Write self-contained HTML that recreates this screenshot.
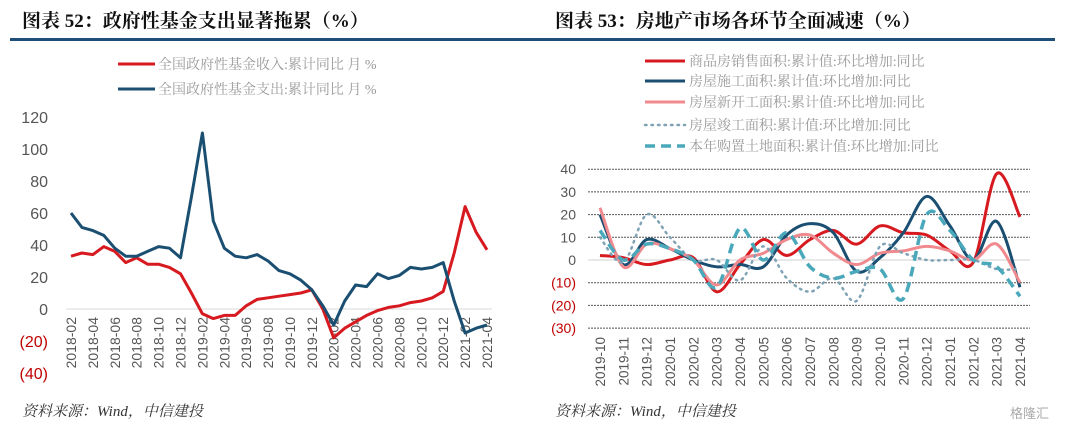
<!DOCTYPE html>
<html><head><meta charset="utf-8">
<style>
body{margin:0;background:#fff;width:1080px;height:432px;overflow:hidden;font-family:"Liberation Sans","Noto Sans CJK SC",sans-serif}
svg{position:absolute;left:0;top:0}
</style></head><body>
<svg id="s" width="1080" height="432" xmlns="http://www.w3.org/2000/svg">
<text x="22" y="27" font-size="19" font-weight="bold" fill="#111" font-family="Liberation Serif,Noto Serif CJK SC,serif">图表 52：政府性基金支出显著拖累（%）</text>
<rect x="10" y="38" width="530" height="3" fill="#1f4e79"/>
<text x="555" y="27" font-size="19" font-weight="bold" fill="#111" font-family="Liberation Serif,Noto Serif CJK SC,serif">图表 53：房地产市场各环节全面减速（%）</text>
<rect x="540" y="38" width="515" height="3" fill="#1f4e79"/>
<text x="22" y="416" font-size="15" font-style="italic" fill="#333" font-family="Liberation Serif,Noto Serif CJK SC,serif">资料来源：Wind，中信建投</text>
<text x="555" y="416" font-size="15" font-style="italic" fill="#333" font-family="Liberation Serif,Noto Serif CJK SC,serif">资料来源：Wind，中信建投</text>
<text x="1010" y="418" font-size="13" fill="#aaa">格隆汇</text>
<g id="L"></g><g id="R"></g>
</svg>
<script>
// Left chart data
const leftCats = ["2018-02","2018-03","2018-04","2018-05","2018-06","2018-07","2018-08","2018-09","2018-10","2018-11","2018-12","2019-01","2019-02","2019-03","2019-04","2019-05","2019-06","2019-07","2019-08","2019-09","2019-10","2019-11","2019-12","2020-01","2020-02","2020-03","2020-04","2020-05","2020-06","2020-07","2020-08","2020-09","2020-10","2020-11","2020-12","2021-01","2021-02","2021-03","2021-04"];
const incomeVals = [33,35,34,39,36,29,32,28,28,26,22,10,-3,-6,-4,-4,2,6,7,8,9,10,12,0,-18,-12,-8,-4,-1,1,2,4,5,7,11,35,64,48,37];
const spendVals = [60,51,49,46,38,33,33,36,39,38,32,70,110,55,38,33,32,34,30,24,22,18,12,2,-10,5,15,14,22,19,21,26,25,26,29,5,-15,-12,-10];
const leftTicks = [120,100,80,60,40,20,0,-20,-40];
// Right chart data
const rightCats = ["2019-10","2019-11","2019-12","2020-01","2020-02","2020-03","2020-04","2020-05","2020-06","2020-07","2020-08","2020-09","2020-10","2020-11","2020-12","2021-01","2021-02","2021-03","2021-04"];
const salesVals = [2,1,-2,0,1,-14,-2,9,2,9,13,7,15,12,11,4,-1,38,19];
const constructVals = [20,-2,9,5,0,-3,-2,-3,11,16,12,-5,1,12,28,15,0,17,-12];
const newStartVals = [23,-3,7,5,0,-11,0,3,9,11,3,-2,3,4,6,4,0,7,-10];
const completedVals = [10,-1,20,10,0,0,-9,6,-8,-14,-8,-18,6,3,0,0,0,-4,-4];
const landVals = [13,0,7,5,0,-12,14,0,12,-3,-8,-5,-4,-17,20,13,0,-3,-16];
const rightTicks = [40,30,20,10,0,-10,-20,-30];

const NS="http://www.w3.org/2000/svg";
const SERIF='"Liberation Serif","Noto Serif CJK SC",serif';
function mk(p,tag,at,txt){const e=document.createElementNS(NS,tag);for(const k in at)e.setAttribute(k,at[k]);if(txt!=null)e.textContent=txt;p.appendChild(e);return e;}
function fmt(v){return v<0?"("+(-v)+")":String(v);}

// LEFT
const L=document.getElementById('L');
const lx=i=>71+i*(416/(leftCats.length-1));
const ly=v=>309-1.6*v;
leftTicks.forEach(t=>{const e=mk(L,'text',{x:48,y:ly(t)+6,'font-size':16,'text-anchor':'end',fill:t<0?'#c00000':'#555'},fmt(t));
});
const z=mk(L,'line',{x1:66,x2:492,y1:ly(0),y2:ly(0),stroke:'#d9d9d9','stroke-width':1});

leftCats.forEach((c,i)=>{if(i%2)return;const x=lx(i)+5,y=317;const e=mk(L,'text',{x:x,y:y,'font-size':14,fill:'#555','text-anchor':'end',transform:`rotate(-90 ${x} ${y})`},c);
});
function poly(g,vals,fx,fy,col,name){const d=vals.map((v,i)=>(i?'L':'M')+fx(i).toFixed(1)+' '+fy(v).toFixed(1)).join('');
const e=mk(g,'path',{d:d,fill:'none',stroke:col,'stroke-width':3,'stroke-linejoin':'round'});
}
poly(L,incomeVals,lx,ly,'#d71920','income-line');
poly(L,spendVals,lx,ly,'#1b4f72','spending-line');
[['全国政府性基金收入:累计同比  月  %','#d71920',64],['全国政府性基金支出:累计同比  月  %','#1b4f72',89]].forEach((r,k)=>{
const l=mk(L,'line',{x1:118,x2:155,y1:r[2],y2:r[2],stroke:r[1],'stroke-width':3});

const t=mk(L,'text',{x:158,y:r[2]+5,'font-size':14,fill:'#999','font-family':SERIF,'xml:space':'preserve'},r[0]);
});

// RIGHT
const R=document.getElementById('R');
const rx=i=>600+i*(420/(rightCats.length-1));
const ry=v=>260-2.27*v;
rightTicks.forEach(t=>{const e=mk(R,'text',{x:576,y:ry(t)+5,'font-size':14,'text-anchor':'end',fill:t<0?'#c00000':'#555'},fmt(t));

const g=mk(R,'line',{x1:588,x2:1030,y1:ry(t),y2:ry(t),stroke:t===0?'#d0d0d0':'#555','stroke-width':1,'stroke-dasharray':t===0?'':'2 1'});
});
rightCats.forEach((c,i)=>{const x=rx(i)+5,y=337;const e=mk(R,'text',{x:x,y:y,'font-size':13.5,fill:'#555','text-anchor':'end',transform:`rotate(-90 ${x} ${y})`},c);
});
function smooth(vals){const P=vals.map((v,i)=>[rx(i),ry(v)]);let d='M'+P[0][0]+' '+P[0][1];
for(let i=0;i<P.length-1;i++){const p0=P[i-1]||P[i],p1=P[i],p2=P[i+1],p3=P[i+2]||p2;
d+=` C${p1[0]+(p2[0]-p0[0])/6} ${p1[1]+(p2[1]-p0[1])/6} ${p2[0]-(p3[0]-p1[0])/6} ${p2[1]-(p3[1]-p1[1])/6} ${p2[0]} ${p2[1]}`;}return d;}
const series=[[salesVals,'#d71920','','商品房销售面积:累计值:环比增加:同比','sales-line',3],
[constructVals,'#1b4f72','','房屋施工面积:累计值:环比增加:同比','construction-line',3],
[newStartVals,'#f08a8e','','房屋新开工面积:累计值:环比增加:同比','new-start-line',3],
[completedVals,'#7fa3b5','1.5 5','房屋竣工面积:累计值:环比增加:同比','completed-line',2.5],
[landVals,'#4aa8bb','10 6','本年购置土地面积:累计值:环比增加:同比','land-line',3.5]];
const legY=[61,81,102,125,146];
series.forEach((s,k)=>{const p=mk(R,'path',{d:smooth(s[0]),fill:'none',stroke:s[1],'stroke-width':s[5],'stroke-dasharray':s[2],'stroke-linecap':k===3?'round':'butt'});

const l=mk(R,'line',{x1:645,x2:685,y1:legY[k],y2:legY[k],stroke:s[1],'stroke-width':s[5],'stroke-dasharray':s[2],'stroke-linecap':k===3?'round':'butt'});

const t=mk(R,'text',{x:689,y:legY[k]+5,'font-size':14,fill:'#999','font-family':SERIF},s[3]);
});
</script>
</body></html>
